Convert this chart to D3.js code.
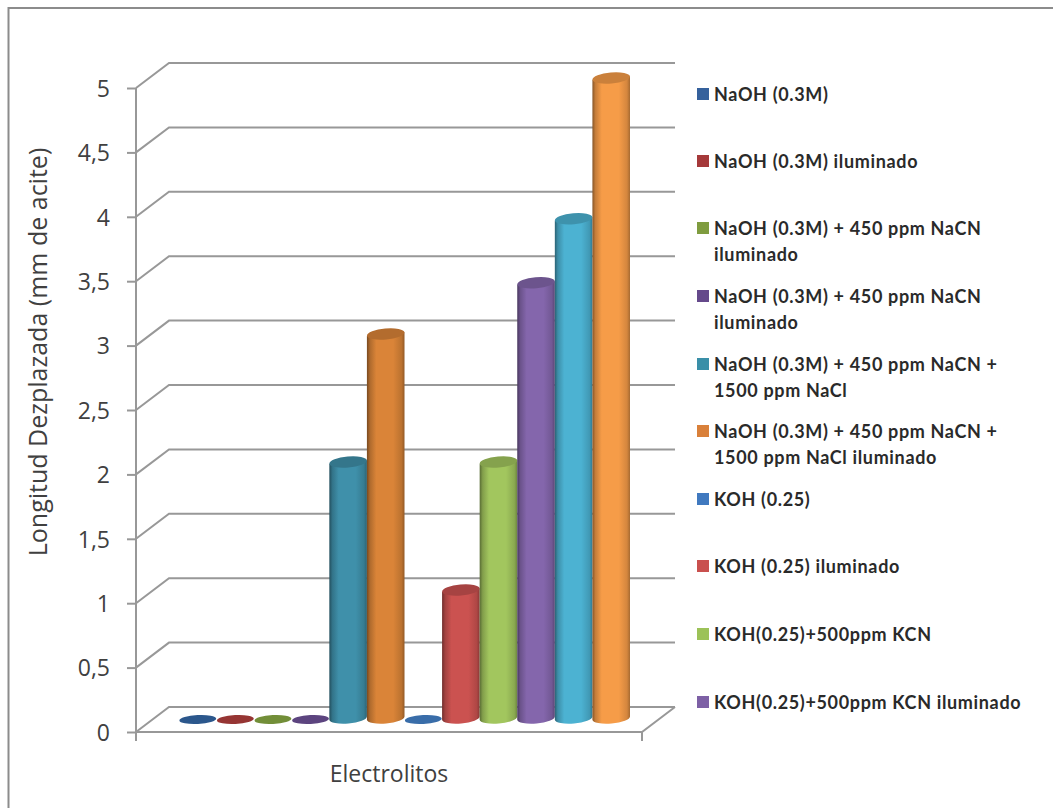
<!DOCTYPE html>
<html>
<head>
<meta charset="utf-8">
<script src="https://cdn.jsdelivr.net/npm/d3@7/dist/d3.min.js"></script>
<style>
html,body{margin:0;padding:0;background:#fff}
svg{display:block}
text{font-family:Lato,"Open Sans",sans-serif}
</style>
</head>
<body>
<div id="chart"></div>
<script>
// Electrolyte series, left to right along the category axis
const seriesNames = ["NaOH (0.3M)","NaOH (0.3M) iluminado","NaOH (0.3M) + 450 ppm NaCN iluminado","NaOH (0.3M) + 450 ppm NaCN iluminado (2)","NaOH (0.3M) + 450 ppm NaCN + 1500 ppm NaCl","NaOH (0.3M) + 450 ppm NaCN + 1500 ppm NaCl iluminado","KOH (0.25)","KOH (0.25) iluminado","KOH(0.25)+500ppm KCN","KOH(0.25)+500ppm KCN iluminado","KOH(0.25)+500ppm KCN + NaCl","KOH(0.25)+500ppm KCN + NaCl iluminado"];
const values = [0,0,0,0,2,3,0,1,2,3.4,3.9,5];
const baseColors = ["#2f5f98","#a33a37","#7c9a3d","#644a8a","#3f90aa","#da8438","#3e76b8","#cb5250","#a2c65e","#8466ac","#4cb2d2","#f69c48"];
const yTicks = [0,0.5,1,1.5,2,2.5,3,3.5,4,4.5,5];
const legendEntries = [
  {lines:["NaOH (0.3M)"],color:"#35619c",y:94},
  {lines:["NaOH (0.3M) iluminado"],color:"#a5393a",y:161},
  {lines:["NaOH (0.3M) + 450 ppm NaCN","iluminado"],color:"#7f9c3f",y:228},
  {lines:["NaOH (0.3M) + 450 ppm NaCN","iluminado"],color:"#65498b",y:296},
  {lines:["NaOH (0.3M) + 450 ppm NaCN +","1500 ppm NaCl"],color:"#3a8fa8",y:364},
  {lines:["NaOH (0.3M) + 450 ppm NaCN +","1500 ppm NaCl iluminado"],color:"#d9803a",y:431},
  {lines:["KOH (0.25)"],color:"#4079bf",y:499},
  {lines:["KOH (0.25) iluminado"],color:"#c9504e",y:566},
  {lines:["KOH(0.25)+500ppm KCN"],color:"#9cc258",y:634},
  {lines:["KOH(0.25)+500ppm KCN iluminado"],color:"#7d60a5",y:702}
];

const width = 1053, height = 808;
const depth = {dx:33, dy:-25};
const frontLeft = 136, frontRight = 642;

const svg = d3.select("#chart").append("svg").attr("width",width).attr("height",height);
const defs = svg.append("defs");

// Outer picture frame; only its top and left edges fall inside the page
svg.append("rect").attr("x",8.5).attr("y",8).attr("width",width+20).attr("height",height+20)
  .attr("fill","#fff").attr("stroke","#8c8c8c").attr("stroke-width",2);

const y = d3.scaleLinear().domain([0,5]).range([732,88]);
// Cylinders stand mid-way across the floor, so their heights run on a slightly shorter scale
const yBar = d3.scaleLinear().domain([0,5]).range([718,78]);
const x = d3.scaleBand().domain(d3.range(values.length)).range([162.5,613.5]).padding(0);

// 3D wall: back gridlines and their diagonal returns on the side wall
const grid = svg.append("g").attr("stroke","#989898").attr("stroke-width",2).attr("fill","none");
yTicks.forEach(t=>{
  const yf = y(t);
  grid.append("path").attr("d",d3.line()([[frontLeft,yf],[frontLeft+depth.dx,yf+depth.dy],[frontRight+depth.dx,yf+depth.dy]]));
});
// Floor outline
grid.append("path").attr("d",d3.line()([[frontLeft,y(0)],[frontRight,y(0)],[frontRight+depth.dx,y(0)+depth.dy]]));

// Y axis
const axisG = svg.append("g").attr("transform",`translate(${frontLeft},0)`)
  .call(d3.axisLeft(y).tickValues(yTicks).tickSize(9).tickPadding(17)
    .tickFormat(d=>String(d).replace(".",",")));
axisG.select(".domain").attr("stroke","#989898").attr("stroke-width",2).attr("d",`M0,${y(5)}V${y(0)+9}`);
axisG.selectAll(".tick line").attr("stroke","#989898").attr("stroke-width",2);
axisG.selectAll(".tick text").attr("font-size",23).attr("fill","#404040")
  .style("font-family","'Open Sans',sans-serif").attr("dy","0.36em");

// Category tick marks at the ends of the front floor edge
svg.append("g").attr("stroke","#989898").attr("stroke-width",2).selectAll("line")
  .data([frontLeft,frontRight]).join("line")
  .attr("x1",d=>d).attr("x2",d=>d).attr("y1",y(0)).attr("y2",y(0)+9);

// Axis titles
svg.append("text").attr("transform","translate(47,352) rotate(-90)").attr("text-anchor","middle")
  .attr("font-size",25).attr("fill","#404040").style("font-family","'Open Sans',sans-serif")
  .text("Longitud Dezplazada (mm de acite)");
svg.append("text").attr("x",389).attr("y",782).attr("text-anchor","middle")
  .attr("font-size",23).attr("fill","#404040").style("font-family","'Open Sans',sans-serif")
  .text("Electrolitos");

// Cylinders, shaded horizontally with a gradient per series
const shade = (c,k)=>d3.interpolateRgb(c,"#000")(k);
values.forEach((v,i)=>{
  const c = baseColors[i];
  const grad = defs.append("linearGradient").attr("id","cyl"+i);
  [[0,shade(c,0.45)],[0.08,shade(c,0.2)],[0.25,c],[0.7,c],[0.92,shade(c,0.14)],[1,shade(c,0.32)]]
    .forEach(([o,col])=>grad.append("stop").attr("offset",o).attr("stop-color",col));
});
const rx = x.bandwidth()/2, ry = 5.5, tilt = -5, lift = rx*Math.sin(-tilt*Math.PI/180);
const bars = svg.append("g");
const offsetX = depth.dx/2;
values.forEach((v,i)=>{
  const cx = x(i)+rx+offsetX;
  const yBase = yBar(0), yTop = yBar(v);
  const g = bars.append("g");
  if(v>0){
    // Body: down the left edge, along the tilted front of the base, back up the right edge
    g.append("path").attr("fill",`url(#cyl${i})`)
      .attr("d",`M${cx-rx},${yTop+lift}V${yBase+lift}A${rx},${ry} ${tilt} 0 0 ${cx+rx},${yBase-lift}V${yTop-lift}Z`);
    g.append("ellipse").attr("cx",cx).attr("cy",yTop).attr("rx",rx).attr("ry",ry)
      .attr("transform",`rotate(${tilt} ${cx} ${yTop})`)
      .attr("fill",shade(baseColors[i],0.18));
  } else {
    g.append("ellipse").attr("cx",cx).attr("cy",yBase+1.5).attr("rx",rx*0.98).attr("ry",4.5)
      .attr("transform",`rotate(-3 ${cx} ${yBase+1.5})`)
      .attr("fill",shade(baseColors[i],0.08));
  }
});

// Legend
const legend = svg.append("g");
legendEntries.forEach(e=>{
  legend.append("rect").attr("x",697).attr("y",e.y-6).attr("width",12).attr("height",12).attr("fill",e.color);
  e.lines.forEach((l,j)=>{
    legend.append("text").attr("x",714).attr("y",e.y+7+j*25.5)
      .attr("font-size",18).attr("font-weight",700).attr("letter-spacing",0.65).attr("fill","#2a2a2a").text(l);
  });
});
</script>
</body>
</html>
